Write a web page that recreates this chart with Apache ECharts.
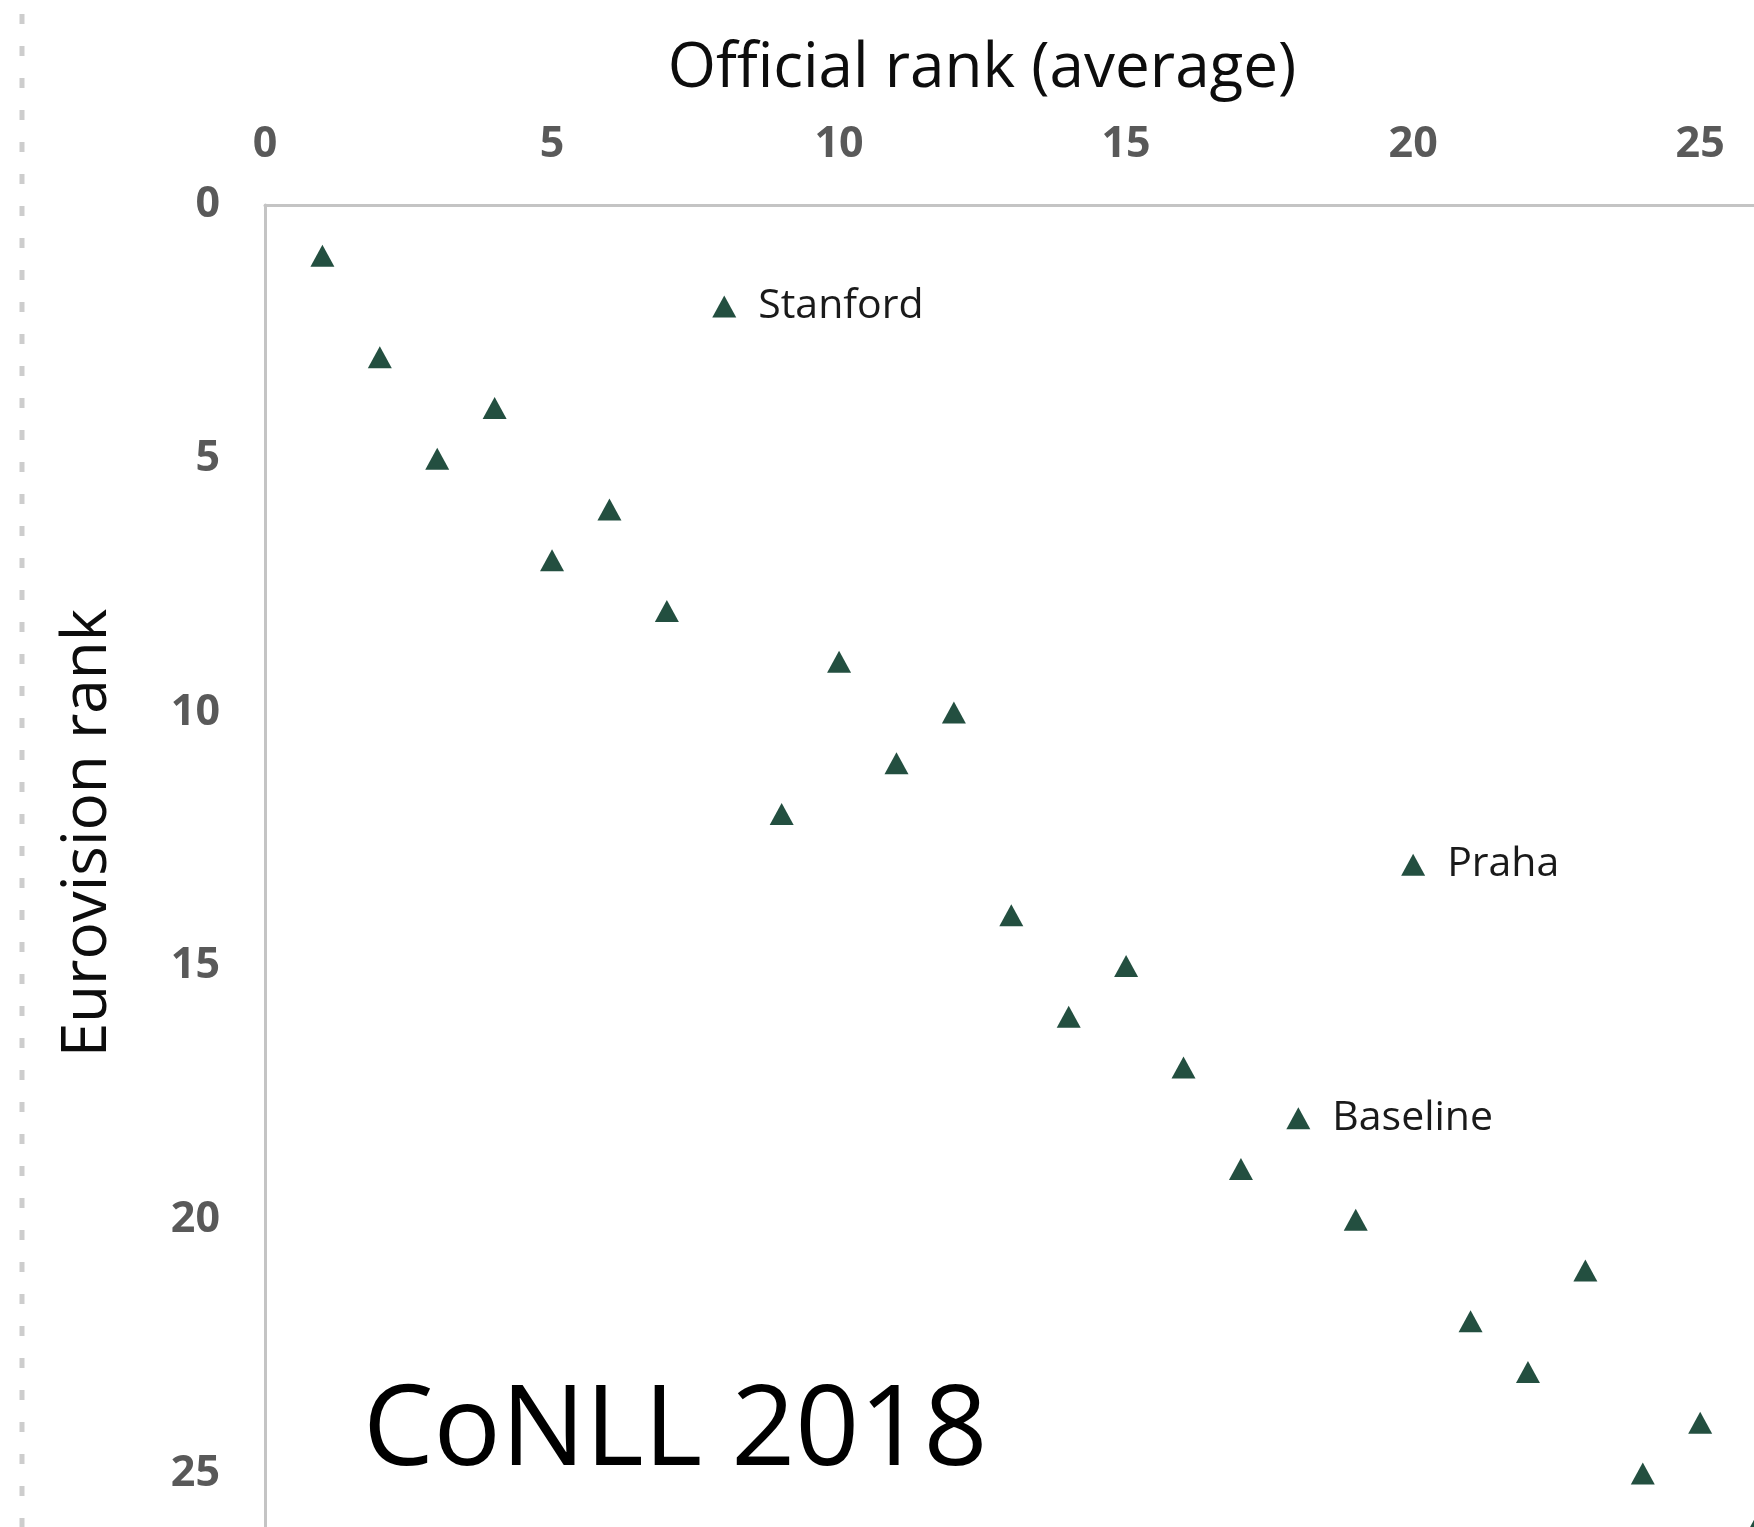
<!DOCTYPE html>
<html>
<head>
<meta charset="utf-8">
<script src="https://cdn.jsdelivr.net/npm/echarts@6/dist/echarts.min.js"></script>
<style>
  html, body { margin: 0; padding: 0; background: #fff; }
  #chart { width: 1754px; height: 1527px; }
</style>
</head>
<body>
<div id="chart"></div>
<script>
// CoNLL 2018: official average rank vs. "Eurovision" rank
var officialRank = [1, 8, 2, 4, 3, 6, 5, 7, 10, 12, 11, 9, 20, 13, 15, 14, 16, 18, 17, 19, 23, 21, 22, 25, 24, 26];
var eurovisionRank = [1, 2, 3, 4, 5, 6, 7, 8, 9, 10, 11, 12, 13, 14, 15, 16, 17, 18, 19, 20, 21, 22, 23, 24, 25, 26];
var teamNames = ['', 'Stanford', '', '', '', '', '', '', '', '', '', '', 'Praha', '', '', '', '', 'Baseline', '', '', '', '', '', '', '', ''];
var tickValues = [0, 5, 10, 15, 20, 25];

var myChart = echarts.init(document.getElementById('chart'));

var points = officialRank.map(function (x, i) {
    return {value: [x, eurovisionRank[i]], name: teamNames[i]};
});

var FONT = '"Open Sans", sans-serif';

function tickLabel(v) {
    return tickValues.indexOf(v) >= 0 ? String(v) : '';
}

var option = {
    backgroundColor: '#ffffff',
    animation: false,
    title: {
        text: 'CoNLL 2018',
        left: 358,
        top: 1372,
        textStyle: {fontFamily: FONT, fontSize: 112, fontWeight: 'normal', color: '#000000'}
    },
    // plot area runs past the right and bottom edge of the picture
    grid: {left: 265, top: 205, width: 1550, height: 1370, containLabel: false, outerBoundsMode: 'none'},
    xAxis: {
        type: 'value',
        position: 'top',
        min: 0,
        max: 27,
        interval: 5,
        name: 'Official rank (average)',
        nameLocation: 'middle',
        nameGap: 105,
        nameTextStyle: {fontFamily: FONT, fontSize: 62, color: '#0d0d0d', padding: [0, 116, 0, 0]},
        axisLine: {show: true, lineStyle: {color: '#c4c4c4', width: 3}},
        axisTick: {show: false},
        splitLine: {show: false},
        axisLabel: {
            margin: 39, fontFamily: FONT, fontSize: 43, fontWeight: 'bold', color: '#595959',
            showMaxLabel: false, formatter: tickLabel
        }
    },
    yAxis: {
        type: 'value',
        inverse: true,
        min: 0,
        max: 27,
        interval: 5,
        name: 'Eurovision rank',
        nameLocation: 'middle',
        nameGap: 146,
        nameTextStyle: {fontFamily: FONT, fontSize: 62, color: '#0d0d0d', padding: [0, 0, 0, 114]},
        axisLine: {show: true, lineStyle: {color: '#c4c4c4', width: 3}},
        axisTick: {show: false},
        splitLine: {show: false},
        axisLabel: {
            margin: 45, fontFamily: FONT, fontSize: 43, fontWeight: 'bold', color: '#595959',
            showMaxLabel: false, formatter: tickLabel
        }
    },
    graphic: [{
        type: 'line',
        shape: {x1: 22, y1: 14, x2: 22, y2: 1527},
        style: {stroke: '#cdcdcd', lineWidth: 5, lineDash: [10, 22]}
    }],
    series: [{
        type: 'scatter',
        symbol: 'triangle',
        symbolSize: [24, 22],
        itemStyle: {color: '#234f40', opacity: 1},
        label: {
            show: true,
            position: 'right',
            distance: 22,
            formatter: function (p) { return p.name; },
            fontFamily: FONT,
            fontSize: 41,
            color: '#1a1a1a'
        },
        data: points
    }]
};

myChart.setOption(option);
</script>
</body>
</html>
